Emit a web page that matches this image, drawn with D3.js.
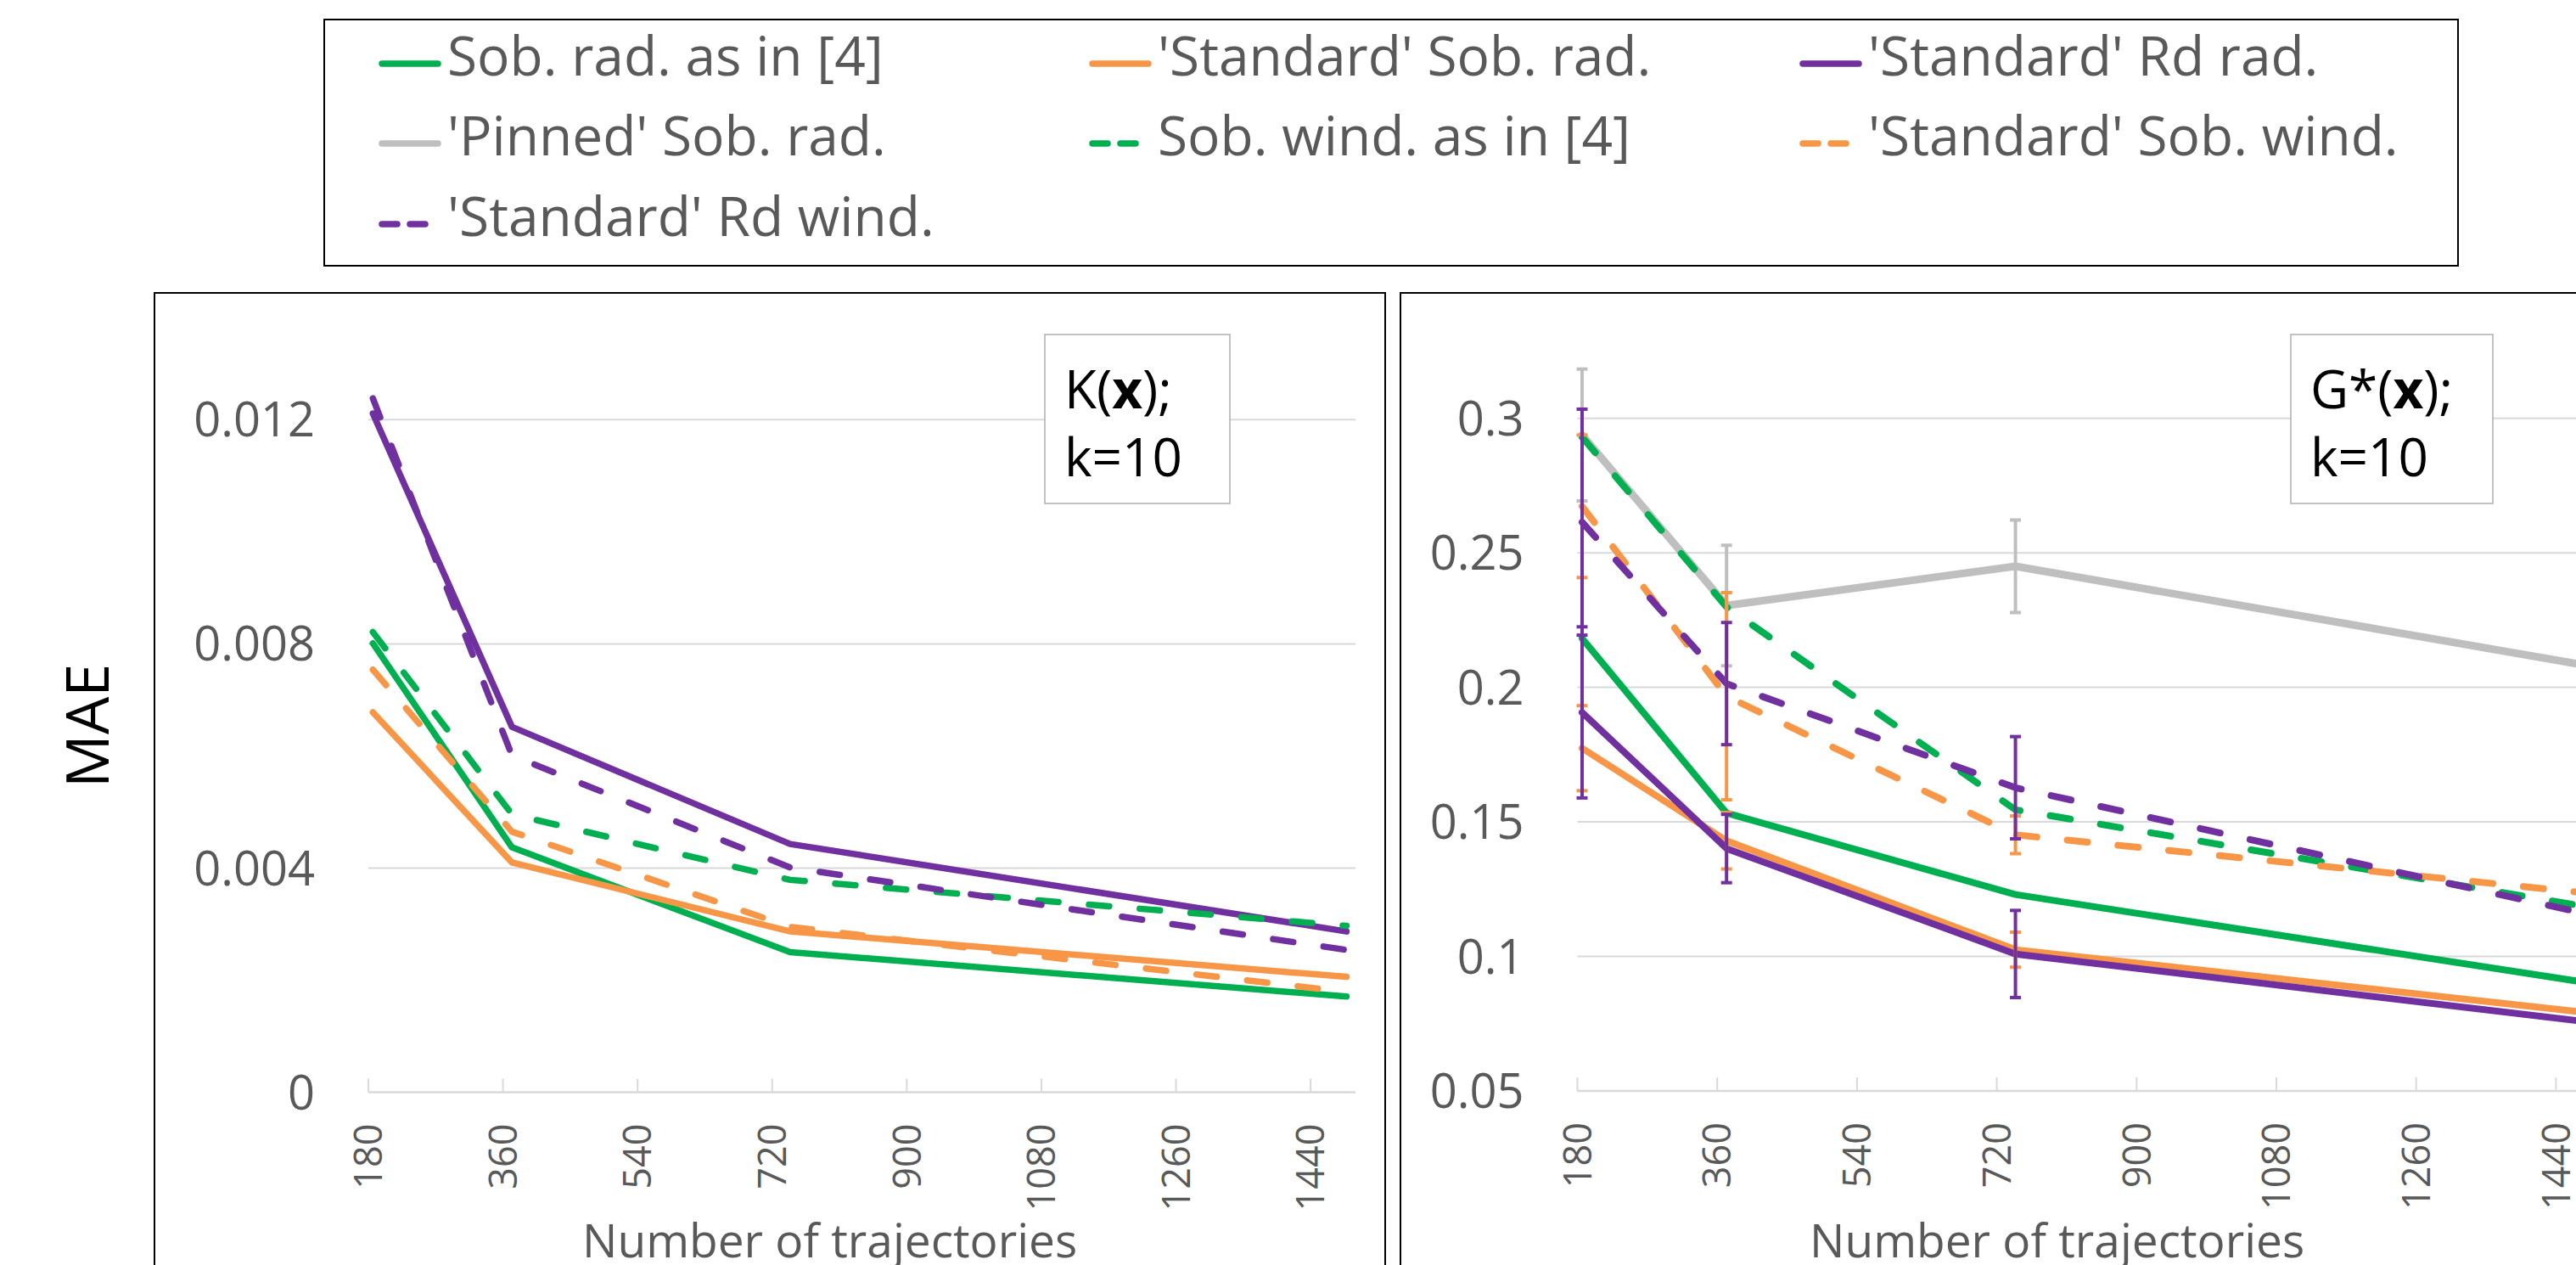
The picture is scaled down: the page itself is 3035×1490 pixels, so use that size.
<!DOCTYPE html>
<html>
<head>
<meta charset="utf-8">
<script src="https://cdn.jsdelivr.net/npm/d3@7"></script>
<style>
  body { margin: 0; background: #fff; overflow: hidden; }
  svg { display: block; }
  text { font-family: 'Open Sans', sans-serif; }
</style>
</head>
<body>
<div id="chart"></div>
<script>
// number of trajectories (x values of the points)
var trajectories = [186, 372, 744, 1488];
var xTickValues = [180, 360, 540, 720, 900, 1080, 1260, 1440];

var seriesNames = [
  "Sob. rad. as in [4]", "'Standard' Sob. rad.", "'Standard' Rd rad.",
  "'Pinned' Sob. rad.", "Sob. wind. as in [4]", "'Standard' Sob. wind.",
  "'Standard' Rd wind."
];

// K(x) panel, MAE
var kSobRad     = [0.00801, 0.00437, 0.00250, 0.00171];
var kStdSobRad  = [0.00678, 0.00410, 0.00287, 0.00206];
var kStdRdRad   = [0.01211, 0.00652, 0.00443, 0.00287];
var kSobWind    = [0.00821, 0.00496, 0.00379, 0.00297];
var kStdSobWind = [0.00754, 0.00465, 0.00295, 0.00179];
var kStdRdWind  = [0.01238, 0.00601, 0.00401, 0.00254];

// G*(x) panel, MAE
var gSobRad     = [0.2182, 0.1533, 0.1230, 0.0899];
var gStdSobRad  = [0.1774, 0.1430, 0.1025, 0.0789];
var gStdRdRad   = [0.1907, 0.1401, 0.1009, 0.0754];
var gPinned     = [0.2938, 0.2304, 0.2450, 0.2077];
var gSobWind    = [0.2930, 0.2299, 0.1545, 0.1180];
var gStdSobWind = [0.2673, 0.1967, 0.1452, 0.1233];
var gStdRdWind  = [0.2614, 0.2014, 0.1627, 0.1153];

// error bars (+/-) on the G*(x) panel
var gStdSobRadErr  = [0.0158, 0.0105, 0.0065, 0.005];
var gStdRdRadErr   = [0.0318, 0.0127, 0.0162, 0.010];
var gPinnedErr     = [0.0245, 0.0224, 0.0172, 0.015];
var gStdSobWindErr = [0.0265, 0.0385, 0.0070, 0.006];
var gStdRdWindErr  = [0.0420, 0.0227, 0.0190, 0.010];

var kTickValues = [0, 0.004, 0.008, 0.012];
var kTickLabels = ["0", "0.004", "0.008", "0.012"];
var gTickValues = [0.05, 0.1, 0.15, 0.2, 0.25, 0.3];
var gTickLabels = ["0.05", "0.1", "0.15", "0.2", "0.25", "0.3"];

var green = "#00B050", orange = "#F79646", purple = "#7030A0", grey = "#BFBFBF";
var textGrey = "#595959", gridGrey = "#D9D9D9";

var series = [
  {name: seriesNames[0], color: green,  dash: false, k: kSobRad,     g: gSobRad,     err: null},
  {name: seriesNames[1], color: orange, dash: false, k: kStdSobRad,  g: gStdSobRad,  err: gStdSobRadErr},
  {name: seriesNames[2], color: purple, dash: false, k: kStdRdRad,   g: gStdRdRad,   err: gStdRdRadErr},
  {name: seriesNames[3], color: grey,   dash: false, k: null,        g: gPinned,     err: gPinnedErr},
  {name: seriesNames[4], color: green,  dash: true,  k: kSobWind,    g: gSobWind,    err: null},
  {name: seriesNames[5], color: orange, dash: true,  k: kStdSobWind, g: gStdSobWind, err: gStdSobWindErr},
  {name: seriesNames[6], color: purple, dash: true,  k: kStdRdWind,  g: gStdRdWind,  err: gStdRdWindErr}
];

var W = 3035, H = 1490;
var svg = d3.select("#chart").append("svg")
  .attr("width", W)
  .attr("height", H);

// legend
var legend = svg.append("g");
legend.append("rect")
  .attr("x", 382).attr("y", 23)
  .attr("width", 2514).attr("height", 290)
  .attr("fill", "#fff").attr("stroke", "#000").attr("stroke-width", 2);

var colX = [450, 1287, 2124], rowY = [75, 169, 264];
series.forEach(function(s, i) {
  var cx = colX[i % 3], cy = rowY[Math.floor(i / 3)];
  var item = legend.append("g").attr("transform", "translate(" + cx + "," + cy + ")");
  item.append("line")
    .attr("x1", 0).attr("x2", s.dash ? 51 : 66)
    .attr("y1", 0).attr("y2", 0)
    .attr("stroke", s.color).attr("stroke-width", 7.5)
    .attr("stroke-linecap", "round")
    .attr("stroke-dasharray", s.dash ? "18,15" : null);
  item.append("text")
    .attr("x", 77).attr("y", 14)
    .attr("font-size", 64).attr("fill", textGrey)
    .text(s.name);
});

// y title
svg.append("text")
  .attr("transform", "translate(128,855) rotate(-90)")
  .attr("text-anchor", "middle")
  .attr("font-size", 70).attr("fill", "#000")
  .text("MAE");

function drawPanel(cfg) {
  var g = svg.append("g");

  g.append("rect")
    .attr("x", cfg.box[0]).attr("y", 345)
    .attr("width", cfg.box[1]).attr("height", 1300)
    .attr("fill", "#fff").attr("stroke", "#000").attr("stroke-width", 2);

  var x = d3.scaleLinear().domain([180, 1500]).range(cfg.xRange);
  var y = d3.scaleLinear().domain(cfg.yDomain).range(cfg.yRange);

  // grid
  g.selectAll(".grid").data(cfg.yTicks.slice(1)).enter().append("line")
    .attr("x1", x(180)).attr("x2", x(1500))
    .attr("y1", function(d) { return y(d); }).attr("y2", function(d) { return y(d); })
    .attr("stroke", gridGrey).attr("stroke-width", 2);

  // x axis line + ticks pointing up
  var y0 = y(cfg.yTicks[0]);
  g.append("line")
    .attr("x1", x(180)).attr("x2", x(1500))
    .attr("y1", y0).attr("y2", y0)
    .attr("stroke", gridGrey).attr("stroke-width", 2.5);
  g.selectAll(".xt").data(xTickValues).enter().append("line")
    .attr("x1", function(d) { return x(d); }).attr("x2", function(d) { return x(d); })
    .attr("y1", y0).attr("y2", y0 - 16)
    .attr("stroke", gridGrey).attr("stroke-width", 2);

  g.selectAll(".xl").data(xTickValues).enter().append("text")
    .attr("transform", function(d) { return "translate(" + x(d) + "," + (y0 + 37) + ") rotate(-90)"; })
    .attr("text-anchor", "end")
    .attr("dy", "0.36em")
    .attr("font-size", 45).attr("fill", textGrey)
    .text(function(d) { return d; });

  g.selectAll(".yl").data(cfg.yTicks).enter().append("text")
    .attr("x", cfg.xRange[0] - 63)
    .attr("y", function(d) { return y(d) + 20; })
    .attr("text-anchor", "end")
    .attr("font-size", 56).attr("fill", textGrey)
    .text(function(d, i) { return cfg.yLabels[i]; });

  g.append("text")
    .attr("x", cfg.titleX).attr("y", 1481)
    .attr("font-size", 55).attr("fill", textGrey)
    .text("Number of trajectories");

  // series lines
  var line = d3.line()
    .x(function(d, i) { return x(trajectories[i]); })
    .y(function(d) { return y(d); });

  series.forEach(function(s) {
    var vals = s[cfg.key];
    if (!vals) return;
    g.append("path")
      .datum(vals)
      .attr("d", line)
      .attr("fill", "none")
      .attr("stroke", s.color)
      .attr("stroke-width", s.color === grey ? cfg.lw + 1 : cfg.lw)
      .attr("stroke-linejoin", "round")
      .attr("stroke-linecap", "round")
      .attr("stroke-dasharray", s.dash ? "24,36" : null);
  });

  // error bars
  if (cfg.errors) {
    series.forEach(function(s) {
      if (!s.err) return;
      var vals = s[cfg.key];
      var eb = g.append("g").attr("stroke", s.color);
      vals.forEach(function(v, i) {
        var cx = x(trajectories[i]);
        var top = y(v + s.err[i]), bot = y(v - s.err[i]);
        eb.append("line").attr("x1", cx).attr("x2", cx).attr("y1", top).attr("y2", bot)
          .attr("stroke-width", 4);
        [top, bot].forEach(function(yy) {
          eb.append("line").attr("x1", cx - 6.5).attr("x2", cx + 6.5).attr("y1", yy).attr("y2", yy)
            .attr("stroke-width", 4);
        });
      });
    });
  }

  // panel label
  g.append("rect")
    .attr("x", cfg.labelBox[0]).attr("y", 394)
    .attr("width", cfg.labelBox[1]).attr("height", 199)
    .attr("fill", "#fff").attr("stroke", "#AFAFAF").attr("stroke-width", 1.5);
  var t1 = g.append("text")
    .attr("x", cfg.labelBox[0] + 23).attr("y", 481)
    .attr("font-size", 62).attr("fill", "#000");
  t1.append("tspan").text(cfg.labelA);
  t1.append("tspan").attr("font-weight", "bold").text("x");
  t1.append("tspan").text(");");
  g.append("text")
    .attr("x", cfg.labelBox[0] + 23).attr("y", 561)
    .attr("font-size", 62).attr("fill", "#000")
    .text("k=10");
}

drawPanel({
  key: "k", box: [182, 1450], xRange: [434, 1597],
  yDomain: [0, 0.012], yRange: [1286.6, 494.3],
  yTicks: kTickValues, yLabels: kTickLabels,
  titleX: 686, lw: 7.5, errors: false,
  labelBox: [1231, 218], labelA: "K("
});

drawPanel({
  key: "g", box: [1650, 1500], xRange: [1858.5, 3066.3],
  yDomain: [0.05, 0.3], yRange: [1285, 492.7],
  yTicks: gTickValues, yLabels: gTickLabels,
  titleX: 2132, lw: 8, errors: true,
  labelBox: [2699, 238], labelA: "G*("
});
</script>
</body>
</html>
